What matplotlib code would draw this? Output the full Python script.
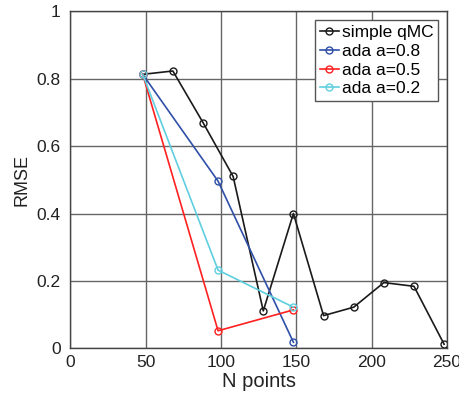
#!/usr/bin/env python3

#
# RMSE vs number of points, simple qMC against the adaptive variants.
#

import matplotlib as mpl

mpl.use('Agg')
import matplotlib.pyplot as plt

plt.rcParams['font.family'] = ['Liberation Sans', 'DejaVu Sans']

# data
qmc_x = [48, 68, 88, 108, 128, 148, 168, 188, 208, 228, 248]
qmc_y = [0.813, 0.823, 0.670, 0.510, 0.111, 0.400, 0.097, 0.122, 0.195, 0.184, 0.012]

ada_x = [48, 98, 148]
ada08_y = [0.813, 0.496, 0.018]
ada05_y = [0.813, 0.052, 0.114]
ada02_y = [0.813, 0.232, 0.122]

series = [
    ('simple qMC', qmc_x, qmc_y, '#1a1a1a'),
    ('ada a=0.8', ada_x, ada08_y, '#2f4fa8'),
    ('ada a=0.5', ada_x, ada05_y, '#ff2020'),
    ('ada a=0.2', ada_x, ada02_y, '#5fcfdf'),
]

x_ticks = [0, 50, 100, 150, 200, 250]
y_ticks = [0, 0.2, 0.4, 0.6, 0.8, 1]
y_tick_labels = ['0', '0.2', '0.4', '0.6', '0.8', '1']

figure = plt.figure(figsize=(4.6, 4.05), dpi=100)
ax = figure.add_axes([0.153, 0.14, 0.819, 0.832])

for label, xs, ys, color in series:
    ax.plot(xs, ys, label=label, color=color, linewidth=1.2,
            marker='o', markersize=5, markerfacecolor='none',
            markeredgewidth=1.0)

ax.set_xlim(0, 250)
ax.set_ylim(0, 1)
ax.set_xticks(x_ticks)
ax.set_yticks(y_ticks)
ax.set_yticklabels(y_tick_labels)
ax.tick_params(axis='both', length=0, labelsize=12.5, colors='#222222')
ax.tick_params(axis='x', pad=5)
ax.tick_params(axis='y', pad=7)
ax.grid(True, color='#666666', linewidth=1.0)
ax.set_axisbelow(True)
for spine in ax.spines.values():
    spine.set_color('#444444')
    spine.set_linewidth(1.0)

ax.set_xlabel('N points', fontsize=14.5, labelpad=1, color='#222222')
ax.set_ylabel('RMSE', fontsize=13, labelpad=4, color='#222222')

legend = ax.legend(loc='upper right', fontsize=12.5, fancybox=False,
                   framealpha=1, edgecolor='#555555', handlelength=1.1,
                   handletextpad=0.15, borderpad=0.3, labelspacing=0.2,
                   borderaxespad=0.5)
legend.get_frame().set_linewidth(1.0)

figure.savefig('out.png', dpi=100)
plt.close(figure)
